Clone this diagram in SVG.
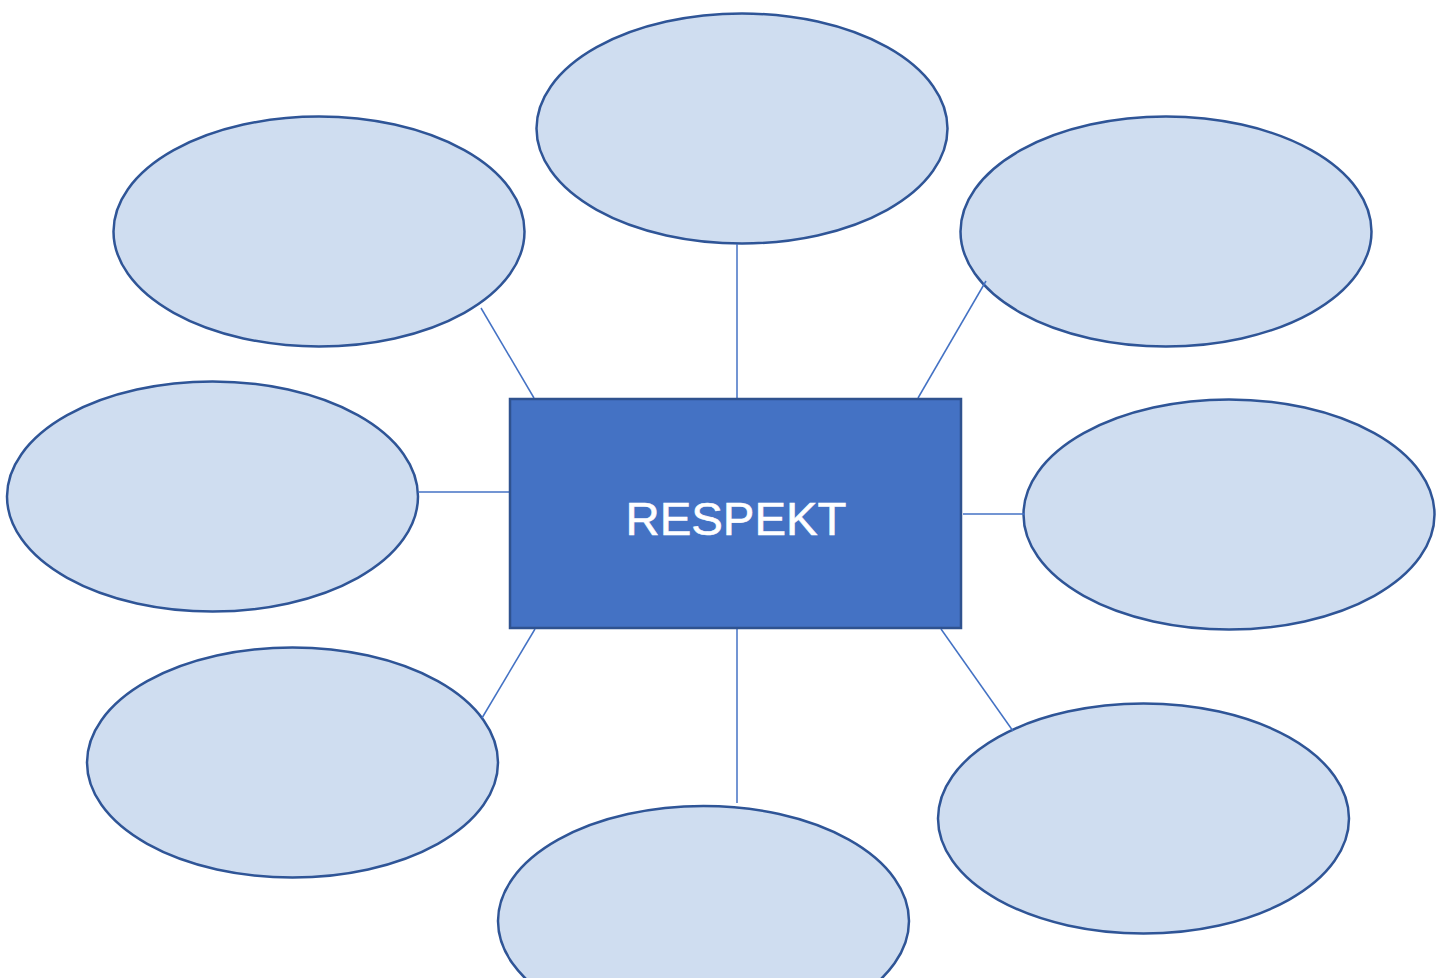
<svg xmlns="http://www.w3.org/2000/svg" width="1444" height="978" viewBox="0 0 1444 978">
<style>
.bubble{fill:#CFDDF0;stroke:#2F5597;stroke-width:2.5}
.conn{stroke:#4472C4;stroke-width:1.5;fill:none}
.center{fill:#4472C4;stroke:#2F528F;stroke-width:2.5}
.label{font-family:"Liberation Sans",Arial,sans-serif;font-size:46px;fill:#FFFFFF;stroke:#FFFFFF;stroke-width:0.6}
</style>
<rect width="1444" height="978" fill="#FFFFFF"/>
<g id="node-top"><ellipse class="bubble" cx="742" cy="128.5" rx="205.5" ry="115"/></g>
<g id="node-upper-left"><ellipse class="bubble" cx="319" cy="231.5" rx="205.5" ry="115"/></g>
<g id="node-upper-right"><ellipse class="bubble" cx="1166" cy="231.5" rx="205.5" ry="115"/></g>
<g id="node-left"><ellipse class="bubble" cx="212.5" cy="496.5" rx="205.5" ry="115"/></g>
<g id="node-right"><ellipse class="bubble" cx="1229" cy="514.5" rx="205.5" ry="115"/></g>
<g id="node-lower-left"><ellipse class="bubble" cx="292.5" cy="762.5" rx="205.5" ry="115"/></g>
<g id="node-bottom"><ellipse class="bubble" cx="703.5" cy="921" rx="205.5" ry="115"/></g>
<g id="node-lower-right"><ellipse class="bubble" cx="1143.5" cy="818.5" rx="205.5" ry="115"/></g>
<g id="connectors">
<line class="conn" x1="737" y1="244" x2="737" y2="398"/>
<line class="conn" x1="481" y1="308" x2="534" y2="398"/>
<line class="conn" x1="986" y1="281" x2="918" y2="398"/>
<line class="conn" x1="418" y1="492" x2="510" y2="492"/>
<line class="conn" x1="963" y1="514" x2="1025" y2="514"/>
<line class="conn" x1="535" y1="629" x2="482" y2="718"/>
<line class="conn" x1="737" y1="629" x2="737" y2="803"/>
<line class="conn" x1="941" y1="629" x2="1013" y2="731"/>
</g>
<g id="node-center">
<rect class="center" x="510" y="399" width="451" height="229"/>
<text class="label" x="736" y="535" text-anchor="middle" textLength="221" lengthAdjust="spacingAndGlyphs">RESPEKT</text>
</g>
</svg>
